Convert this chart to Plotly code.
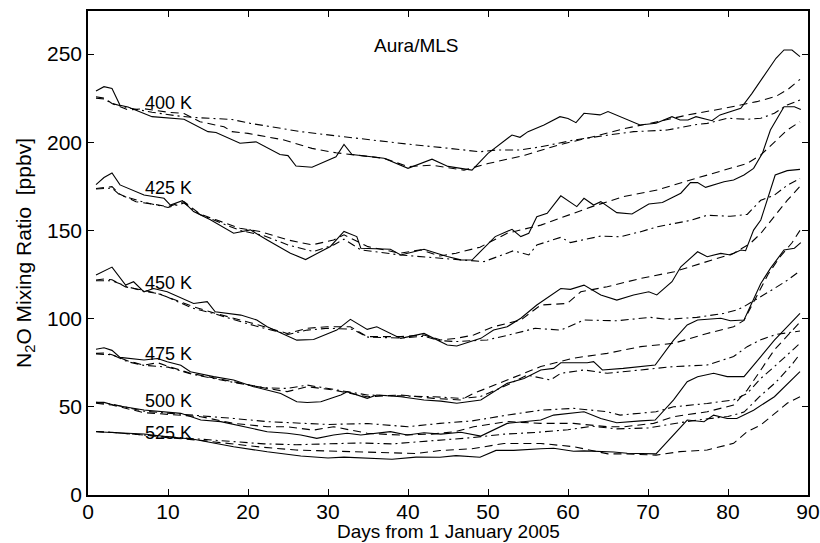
import plotly.graph_objects as go

# ---- N2O mixing ratio (ppbv) on isentropic levels, days from 1 Jan 2005 ----
# solid = observed, dashed / dash-dot = the two comparison curves

# 400 K
days_400_solid = [1, 2, 3, 4, 5, 8, 12, 15, 16, 19, 21, 24, 25, 26, 28, 31, 32, 33, 37, 40, 43, 45, 48,
                  50, 53, 54, 55, 57, 59, 60, 61, 62, 64, 65, 69, 71, 73, 74, 75, 76, 78, 79, 81.6, 83,
                  86, 87, 88, 89]
n2o_400_solid = [229, 231.5, 230.5, 221, 220, 214.5, 213, 206, 205.5, 199.4, 200.2, 193, 192.4, 186.5, 185.8,
                 191.8, 198.8, 193, 190.9, 185.2, 190.4, 186.3, 184.2, 193.7, 204.1, 202.8, 206, 209.8,
                 214.5, 213.5, 211.1, 216.4, 215.5, 217.4, 209.8, 210.8, 214.5, 212.6, 212.6, 214.5, 212.2,
                 215.5, 219.2, 227.7, 247.6, 252.3, 252.3, 248.5]
days_400_dash = [1, 2, 3, 5, 7, 10, 12, 14, 17, 18, 20, 24.5, 28, 31, 33, 37, 40, 43, 47, 50, 54.6, 58.7,
                 63, 67, 71, 75, 79.5, 83.6, 86, 87.5, 89]
n2o_400_dash = [225.8, 225, 222, 218.3, 219, 217, 216.3, 211.6, 208.8, 206, 205, 201.3, 196.5, 194, 193,
                190.9, 186.2, 187, 184.2, 187.9, 192.6, 198.3, 203, 207.7, 211.4, 215.5, 219.2, 223, 226,
                230, 235.6]
days_400_dashdot = [1, 2, 3, 5, 8, 11, 13.4, 18, 20.3, 26.6, 32, 37, 41, 44, 46.6, 49, 51, 54, 56.6, 60.7,
                    64.9, 68.2, 72.4, 75.7, 77.4, 79.9, 82.4, 84.1, 85.8, 87.4, 89]
n2o_400_dashdot = [225, 224.5, 222, 219.5, 217, 215, 214, 212.9, 210.7, 206, 203.1, 200.3, 198.4, 197.1,
                   196, 194.6, 195.6, 195.6, 197.4, 201.2, 204, 206, 206.9, 209.8, 210.7, 213.6, 213,
                   213.6, 216.4, 221.1, 224]

# 425 K
days_425_solid = [1, 2, 3, 4, 7, 9.5, 10.3, 11.8, 13.2, 15.3, 18.2, 20.3, 22.4, 25.3, 27.2, 30.3, 32, 33.6,
                  34.1, 37.8, 39.1, 42, 44.9, 46.6, 48, 50.9, 53, 54.1, 55.1, 56.1, 57.4, 59.1, 61.1, 62,
                  63.2, 64.1, 66.1, 68, 70.1, 71.8, 74.1, 75.3, 76.2, 77.2, 79.5, 80.7, 82, 83.2, 84.3,
                  85.3, 87, 88.3, 89.1]
n2o_425_solid = [176, 180, 182.6, 175.8, 170.1, 168.2, 164.4, 166.9, 160.7, 156, 148.4, 150.3, 144.6, 137.1,
                 133.5, 140.9, 149.4, 146.5, 139.9, 139.3, 136.1, 139.3, 135.2, 133.3, 133.2, 146.5, 150.6,
                 146.5, 148.4, 157.8, 159.7, 169.6, 163.5, 168.2, 164.4, 166.3, 160.1, 159.3, 165, 165.8,
                 171.1, 177.1, 177.1, 174.4, 177.6, 178.6, 181.4, 185.2, 193.7, 206.9, 220.1, 220.1, 218.6]
days_425_dash = [1, 2, 3, 4, 6, 8, 10, 12, 14, 16, 19, 21.5, 25, 28, 30.7, 32, 35, 39, 41.6, 44, 46, 49,
                 52.4, 56.6, 60, 63, 67, 71.2, 75.3, 79.5, 82.4, 84.1, 85.8, 87.4, 89]
n2o_425_dash = [173.8, 174.5, 174.8, 170.5, 166.3, 165, 163.5, 166.3, 159.3, 156, 151.2, 149.4, 144.6,
                141.8, 144.6, 147.5, 140.8, 137.1, 139, 135.5, 137.1, 140.5, 148.4, 153, 158.8, 163.5,
                169.2, 173, 178.6, 184.3, 188, 192.8, 200.3, 206.9, 211.6]
days_425_dashdot = [1, 3, 4, 7, 10, 12, 14, 16, 19, 22, 25, 28.2, 30.7, 32, 34.1, 39, 44, 46.6, 49.5, 53.2,
                    55.1, 56.1, 59.1, 60.3, 64.1, 66.5, 69.1, 71.2, 75.3, 77.4, 80.3, 82.4, 84.1, 85.8,
                    87.4, 89]
n2o_425_dashdot = [173.5, 174, 170, 166, 163, 165.5, 159, 155.5, 150, 147, 141.8, 138, 141.8, 145, 139,
                   136.1, 134, 133.3, 132.3, 138.5, 136.1, 141.7, 146.1, 143.1, 146.8, 146.4, 149.3,
                   152.1, 155.7, 158.6, 158, 159.1, 167.1, 170, 175.6, 179.4]

# 450 K
days_450_solid = [1, 2, 3, 4.7, 5.7, 7, 8.2, 9.9, 13.2, 14.9, 15.9, 19.1, 21.1, 22.4, 26.1, 28.2, 31.1, 32.8,
                  34.9, 36.1, 39.1, 42, 44.9, 46.1, 49.1, 50.7, 52.4, 54.1, 56.1, 59.1, 60.3, 62, 64.1,
                  66.1, 68.2, 70.1, 71.1, 73, 74.1, 76.2, 77.4, 79.1, 80.3, 81.6, 82.2, 83.2, 84.1, 85.9,
                  87.4, 89]
n2o_450_solid = [124.7, 127, 129.2, 119, 120.9, 115.2, 117.1, 115.2, 108.6, 109.6, 103.9, 102, 99.2, 95.4,
                 87.8, 88.2, 93.5, 99.6, 93.9, 95.4, 88.8, 91.6, 85, 84.5, 88.8, 93.5, 95.4, 100.2, 107.7,
                 117.1, 116.6, 119, 113.4, 110.5, 113.4, 115.2, 113.4, 120.9, 129.4, 137.9, 135.1, 137,
                 136.1, 138.9, 138.5, 150.2, 155.9, 181.4, 183.9, 184.6]
days_450_dash = [1, 2, 3, 4.7, 7, 8.7, 13.2, 15.9, 20.3, 24.9, 27.4, 29.9, 32.8, 34.9, 39.1, 42, 44.1, 46,
                 48.2, 50.7, 54.1, 56.6, 59.9, 61.6, 64.9, 69.1, 73.3, 77.4, 80.7, 82.8, 84.1, 85.8, 87.4,
                 89]
n2o_450_dash = [121.9, 122.5, 122, 118, 116, 114.3, 106.7, 103, 97.7, 91.6, 94.5, 95.4, 95.4, 89.8, 89.8,
                90.7, 87.9, 88.8, 90.7, 95.4, 99.2, 107.7, 108.6, 115.2, 118.1, 122.8, 126.6, 132.3, 137,
                142.7, 148.3, 158, 167, 175]
days_450_dashdot = [1, 3, 5, 7, 9, 13, 16, 20, 25, 27.4, 30, 33, 35, 39, 42, 44, 46, 49.9, 52.6, 55.9, 59.1,
                    60.7, 62, 66.1, 70.3, 72.4, 76.1, 79.5, 81.1, 82, 84, 85.8, 87.5, 89]
n2o_450_dashdot = [121.5, 121.5, 118, 115.5, 114, 106, 102.5, 97, 91, 93.5, 94.5, 94, 89.5, 89, 90, 87.5,
                   87, 87.9, 90.7, 94.5, 93.5, 96.4, 99.2, 98.8, 100.7, 99.6, 100.7, 103, 104.9, 106.8,
                   112, 117.1, 122, 127]

# 475 K
days_475_solid = [1, 2, 3, 4, 7, 8.7, 9.9, 11.6, 12.8, 15.7, 18.2, 20.7, 24.1, 26.1, 27.4, 29.1, 31.6, 32.4,
                  34.9, 36.1, 39.1, 42, 44.1, 46.1, 49.1, 52.4, 54.5, 56.6, 58.2, 59.1, 62.4, 63.2, 64.3,
                  66.9, 70.9, 73.2, 74.9, 76.2, 79.1, 80.3, 82, 83.2, 84.1, 85.3, 87, 88.3, 89.1]
n2o_475_solid = [82.6, 83.5, 82, 78, 76.5, 77.4, 75.5, 73.6, 69.9, 67.1, 65.2, 61.4, 57.6, 52.9, 52.4, 52.9,
                 56.7, 58.6, 54.8, 56.7, 55.7, 53.9, 53.2, 52, 53.9, 63.3, 66.1, 70.9, 71.8, 75, 75, 75.6,
                 70.9, 71.8, 73.7, 87.8, 96.4, 99.2, 100.2, 98.8, 99.2, 110.5, 119.9, 128.5, 138.9, 139.9,
                 143.1]
days_475_dash = [1, 2, 3, 5, 7, 8.7, 10, 12.8, 18.2, 22.4, 24.9, 27.4, 30.7, 32.8, 34.9, 39.1, 43.2, 46.6,
                 48.2, 52.4, 56.6, 60.7, 64.9, 69.1, 73.2, 77.4, 80.7, 82, 83.5, 85, 86.5, 88, 89]
n2o_475_dash = [80.3, 80.5, 79.5, 76, 73.6, 75, 73, 69, 64.2, 60.4, 58.6, 61.4, 59.5, 57.6, 55.7, 56.7,
                54.8, 53.9, 57.6, 65.2, 72.8, 77.6, 80.3, 84.1, 86, 91.6, 95.4, 99, 112, 125, 135, 143, 150]
days_475_dashdot = [1, 3, 5, 7, 10, 13, 18, 22, 24.9, 27.4, 30.7, 34.9, 39, 43.2, 46.6, 49, 52.4, 54.9,
                    57.8, 59.1, 62, 64.9, 69.1, 73.2, 77.4, 80.7, 82.4, 84.1, 86, 89]
n2o_475_dashdot = [80, 79.5, 75.5, 73.5, 72.5, 68.5, 64, 60.8, 60.4, 62.3, 59.9, 56.7, 56.2, 55.7, 54.8,
                   55.7, 62.3, 68, 65.2, 69, 70.9, 69, 70.9, 72.8, 73.7, 78.5, 84.1, 88, 91, 93]

# 500 K
days_500_solid = [1, 2, 3.2, 7, 11.6, 14.1, 16.6, 19.5, 22.4, 24.9, 26.6, 28.6, 30.7, 32.4, 34.1, 37.8,
                  39.9, 42, 44.1, 46.6, 49.1, 52.4, 56.6, 58.2, 62, 64.1, 66.1, 69.1, 70.9, 73.2, 74.9,
                  76.2, 78.2, 79.9, 82, 84.1, 85.8, 89]
n2o_500_solid = [52.6, 52.5, 51, 48.2, 46.3, 42.5, 41.6, 38.7, 35.9, 35, 34, 32.1, 34, 35, 34, 35.9, 34,
                 35.3, 34.5, 35.6, 33.4, 40.6, 42.5, 45.3, 47.2, 43.4, 41, 42, 42.5, 53.9, 64.2, 67.1, 69,
                 67.1, 67.1, 78.5, 87.8, 103]
days_500_dash = [1, 3, 7, 11.6, 14.1, 18.2, 22.4, 24.9, 28.2, 30.7, 34.9, 39, 43, 46, 48.2, 52.4, 56.6,
                 60.7, 64.9, 67, 70.7, 73.2, 77.4, 80.7, 82.4, 84.1, 85.8, 89]
n2o_500_dash = [52, 51, 46.7, 45.3, 44.4, 40.6, 38.7, 38.7, 36.8, 38.7, 35, 34, 34.5, 36, 38.7, 41.6, 40.6,
                40.6, 38.7, 38.7, 40.6, 44.4, 47.2, 51, 59.5, 70.9, 82.3, 98]
days_500_dashdot = [1, 3, 7, 11, 14, 18.2, 22.4, 25, 30, 35, 40, 44, 48, 52.4, 56.6, 60.7, 64.9, 66.5, 71,
                    73.2, 77.4, 80.7, 82.4, 84.1, 85.8, 89]
n2o_500_dashdot = [52.5, 51.5, 47.5, 46, 45.3, 43.4, 41.6, 41, 40, 40.5, 38.7, 40.6, 42, 45.3, 48.1, 49.1,
                   47.2, 45.3, 47.2, 50, 51.9, 53.9, 57.6, 66.1, 72.8, 86]

# 525 K
days_525_solid = [1, 3, 7, 10, 13.2, 18.2, 22.4, 26.6, 30, 32, 35, 38, 41, 44, 46, 49, 51, 53.2, 56.6, 58.2,
                  60.7, 62, 65.7, 67.4, 71, 73, 74.9, 77, 78.2, 79.9, 81.1, 83.2, 85.8, 89]
n2o_525_solid = [35.9, 35.5, 34.6, 33, 31.6, 27.4, 24.5, 22.1, 21, 21.5, 21, 20.3, 21.5, 21.4, 22.3, 21.4,
                 25.3, 25.3, 26.2, 26.5, 24.8, 25, 24.4, 23.7, 23.3, 33, 42.5, 41.5, 45.3, 43.4, 43.4, 48.1,
                 55.7, 69.9]
days_525_dash = [1, 3, 7, 10, 14, 18, 22, 26, 30, 34, 38, 41, 44, 48, 52, 56.6, 60.7, 62.9, 65, 67.4, 71,
                 74, 77.4, 80.7, 82.4, 84.1, 87.4, 89]
n2o_525_dash = [36, 35.5, 34, 32.5, 31, 29, 27, 25.5, 25, 24.5, 24, 23.5, 25.2, 26.2, 29.2, 29.2, 27.4,
                25.2, 23.3, 23.3, 22.6, 24.6, 25.5, 29.3, 35.9, 39.7, 52, 55.7]
days_525_dashdot = [1, 3, 7, 10, 14, 18, 22, 26, 30, 34, 38, 41, 44, 48, 52, 56, 60, 63, 66, 70, 74, 77, 80,
                    82, 84, 86, 88, 89]
n2o_525_dashdot = [36, 35.5, 34, 33, 31.5, 30, 29, 28.5, 29, 29.5, 29, 30, 31, 32.5, 34.5, 35.5, 37, 39,
                   37.5, 38, 41, 43, 44.5, 47, 56, 64, 74, 80]

# level names and where each one is written
level_names = ["400 K", "425 K", "450 K", "475 K", "500 K", "525 K"]
label_values = [222.2, 174, 120.2, 79.9, 53.3, 35.1]
label_day = 6.9

x_ticks = [0, 10, 20, 30, 40, 50, 60, 70, 80, 90]
y_ticks = [0, 50, 100, 150, 200, 250]

FONT = "Liberation Sans, Arial, Helvetica, sans-serif"
DASH = "8px,5px"
DASHDOT = "8px,4px,2px,4px"

series = [
    (days_400_solid, n2o_400_solid, "solid"), (days_400_dash, n2o_400_dash, DASH),
    (days_400_dashdot, n2o_400_dashdot, DASHDOT),
    (days_425_solid, n2o_425_solid, "solid"), (days_425_dash, n2o_425_dash, DASH),
    (days_425_dashdot, n2o_425_dashdot, DASHDOT),
    (days_450_solid, n2o_450_solid, "solid"), (days_450_dash, n2o_450_dash, DASH),
    (days_450_dashdot, n2o_450_dashdot, DASHDOT),
    (days_475_solid, n2o_475_solid, "solid"), (days_475_dash, n2o_475_dash, DASH),
    (days_475_dashdot, n2o_475_dashdot, DASHDOT),
    (days_500_solid, n2o_500_solid, "solid"), (days_500_dash, n2o_500_dash, DASH),
    (days_500_dashdot, n2o_500_dashdot, DASHDOT),
    (days_525_solid, n2o_525_solid, "solid"), (days_525_dash, n2o_525_dash, DASH),
    (days_525_dashdot, n2o_525_dashdot, DASHDOT),
]

fig = go.Figure()
for d, v, style in series:
    fig.add_trace(go.Scatter(x=d, y=v, mode="lines", showlegend=False, hoverinfo="skip",
                             line=dict(color="black", width=1.1, dash=style)))

for name, val in zip(level_names, label_values):
    fig.add_annotation(x=label_day, y=val, text=name, showarrow=False, xanchor="left", yanchor="middle",
                       font=dict(family=FONT, size=18, color="black"))

fig.add_annotation(x=41, y=255, text="Aura/MLS", showarrow=False, xanchor="center", yanchor="middle",
                   font=dict(family=FONT, size=19, color="black"))

axis_common = dict(showline=True, linecolor="black", linewidth=1.5, mirror="ticks", ticks="inside",
                   ticklen=6, tickwidth=1, tickcolor="black", showgrid=False, zeroline=False,
                   tickfont=dict(family=FONT, size=21, color="black"))

fig.update_xaxes(range=[0, 90], tickvals=x_ticks, ticktext=[str(t) for t in x_ticks],
                 ticklabelstandoff=-3, **axis_common)
fig.update_yaxes(range=[0, 274.4], tickvals=y_ticks, ticktext=[str(t) for t in y_ticks],
                 title=dict(text="N<sub>2</sub>O Mixing Ratio  [ppbv]", standoff=10,
                            font=dict(family=FONT, size=21, color="black")),
                 **axis_common)

# x-axis title placed just below the tick labels
fig.add_annotation(xref="paper", yref="paper", x=0.5, y=0, yshift=-24, xanchor="center", yanchor="top",
                   text="Days from 1 January 2005", showarrow=False,
                   font=dict(family=FONT, size=19, color="black"))

fig.update_layout(width=820, height=543, margin=dict(l=88, r=12, t=11, b=48, autoexpand=False),
                  paper_bgcolor="white", plot_bgcolor="white")

fig.write_html("out.html")
